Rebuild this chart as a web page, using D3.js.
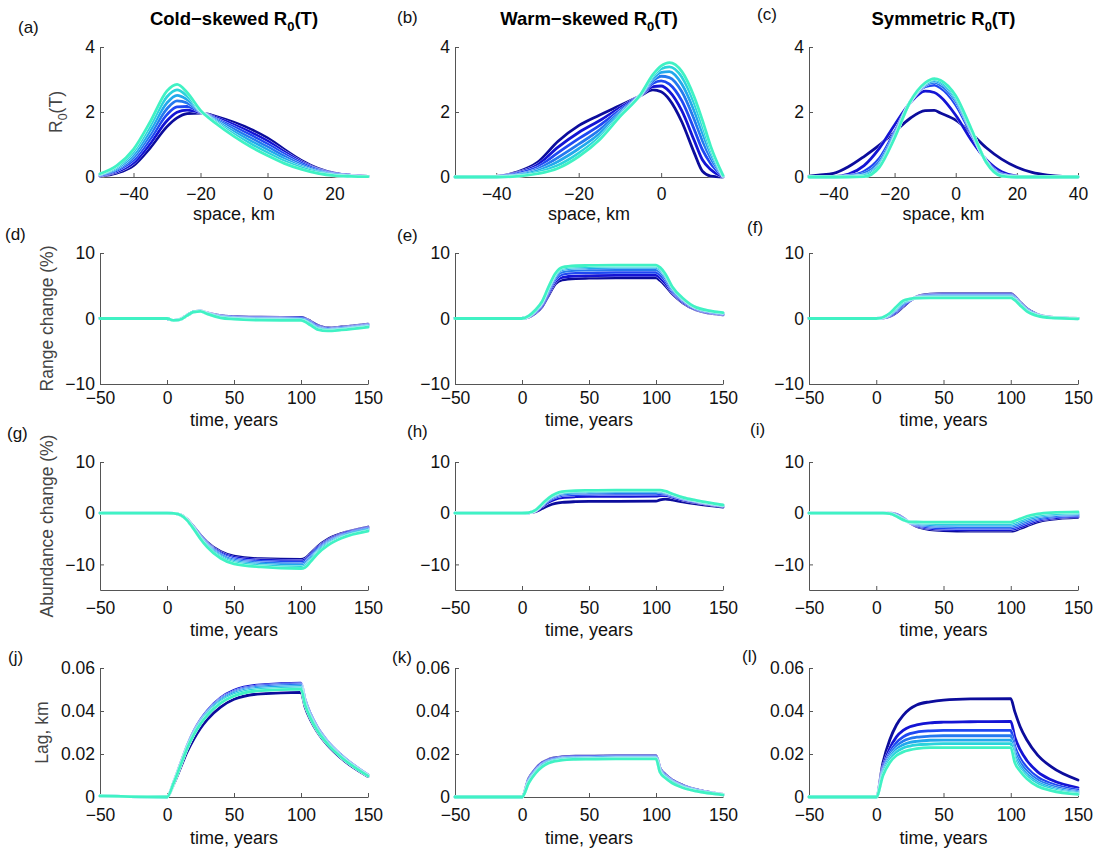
<!DOCTYPE html>
<html>
<head>
<meta charset="utf-8">
<script src="https://cdn.jsdelivr.net/npm/d3@7"></script>
<style>
  body { margin: 0; background: #fff; }
</style>
</head>
<body>
<svg id="chart" width="1097" height="851"></svg>
<script>
// ---------- data (7 runs per panel, dark blue -> aquamarine) ----------

// space grids (km) for the R0(T) profiles
const coldSpace = [-50, -45, -40, -35, -30, -27, -24, -20, -15, -10, -5, 0, 5, 10, 15, 20, 25, 30];
const warmSpace = [-50, -40, -35, -30, -25, -20, -15, -10, -5, -2, 0, 2, 5, 8, 10, 12, 15];
const symSpace = [-48, -45, -40, -35, -30, -25, -20, -15, -10, -7, -5, 0, 5, 10, 15, 20, 25, 30, 35, 40];

// time grid (years) for rows 2-4
const years = [-50, 0, 5, 10, 15, 20, 25, 30, 40, 50, 70, 100, 103, 107, 112, 120, 130, 150];

// (a) cold-skewed R0(T)
const coldR0 = [
  [0.03, 0.12, 0.35, 0.90, 1.55, 1.82, 1.95, 1.97, 1.85, 1.68, 1.47, 1.20, 0.85, 0.52, 0.27, 0.12, 0.05, 0.02],
  [0.04, 0.16, 0.43, 1.03, 1.73, 1.99, 2.06, 1.98, 1.81, 1.61, 1.38, 1.11, 0.78, 0.47, 0.24, 0.11, 0.05, 0.02],
  [0.05, 0.20, 0.52, 1.17, 1.92, 2.16, 2.17, 2.00, 1.77, 1.54, 1.29, 1.02, 0.71, 0.43, 0.22, 0.09, 0.04, 0.01],
  [0.07, 0.24, 0.60, 1.30, 2.10, 2.34, 2.28, 2.01, 1.74, 1.47, 1.20, 0.93, 0.64, 0.38, 0.19, 0.08, 0.03, 0.01],
  [0.08, 0.27, 0.68, 1.43, 2.28, 2.51, 2.38, 2.02, 1.70, 1.39, 1.11, 0.84, 0.56, 0.33, 0.16, 0.07, 0.03, 0.01],
  [0.09, 0.31, 0.77, 1.57, 2.47, 2.68, 2.49, 2.04, 1.66, 1.32, 1.02, 0.75, 0.49, 0.29, 0.14, 0.05, 0.02, 0.01],
  [0.10, 0.35, 0.85, 1.70, 2.65, 2.85, 2.60, 2.05, 1.62, 1.25, 0.93, 0.66, 0.42, 0.24, 0.11, 0.04, 0.02, 0.01]
];

// (b) warm-skewed R0(T)
const warmR0 = [
  [0, 0.02, 0.15, 0.45, 1.10, 1.58, 1.90, 2.20, 2.50, 2.68, 2.62, 2.38, 1.70, 0.75, 0.18, 0.03, 0],
  [0, 0.02, 0.12, 0.37, 0.92, 1.37, 1.73, 2.13, 2.51, 2.78, 2.80, 2.63, 2.04, 1.13, 0.53, 0.23, 0.01],
  [0, 0.01, 0.10, 0.30, 0.75, 1.18, 1.58, 2.06, 2.52, 2.88, 2.96, 2.86, 2.35, 1.47, 0.84, 0.42, 0.02],
  [0, 0.01, 0.07, 0.24, 0.60, 1.01, 1.44, 2.00, 2.52, 2.96, 3.10, 3.06, 2.63, 1.78, 1.12, 0.58, 0.03],
  [0, 0.01, 0.05, 0.19, 0.48, 0.87, 1.33, 1.95, 2.53, 3.03, 3.22, 3.24, 2.86, 2.04, 1.36, 0.72, 0.04],
  [0, 0, 0.03, 0.14, 0.36, 0.73, 1.22, 1.90, 2.53, 3.10, 3.33, 3.39, 3.08, 2.28, 1.58, 0.85, 0.04],
  [0, 0, 0.02, 0.10, 0.27, 0.63, 1.14, 1.86, 2.54, 3.15, 3.42, 3.52, 3.25, 2.47, 1.75, 0.95, 0.05]
];

// (c) symmetric R0(T)
const symR0 = [
  [0.03, 0.06, 0.11, 0.32, 0.63, 0.98, 1.39, 1.80, 2.04, 2.05, 1.97, 1.75, 1.35, 0.90, 0.55, 0.30, 0.14, 0.06, 0.02, 0.01],
  [0, 0.005, 0.01, 0.09, 0.35, 0.88, 1.60, 2.27, 2.64, 2.60, 2.47, 1.90, 1.15, 0.53, 0.16, 0.03, 0.01, 0, 0, 0],
  [0, 0, 0.005, 0.04, 0.17, 0.57, 1.39, 2.29, 2.78, 2.83, 2.74, 2.22, 1.34, 0.49, 0.09, 0.01, 0, 0, 0, 0],
  [0, 0, 0, 0.03, 0.11, 0.47, 1.32, 2.29, 2.82, 2.91, 2.83, 2.33, 1.40, 0.47, 0.07, 0.01, 0, 0, 0, 0],
  [0, 0, 0, 0.01, 0.06, 0.39, 1.26, 2.30, 2.86, 2.96, 2.90, 2.40, 1.44, 0.46, 0.05, 0, 0, 0, 0, 0],
  [0, 0, 0, 0.01, 0.04, 0.35, 1.23, 2.30, 2.88, 3.00, 2.94, 2.45, 1.47, 0.46, 0.04, 0, 0, 0, 0, 0],
  [0, 0, 0, 0, 0.01, 0.30, 1.20, 2.30, 2.90, 3.03, 2.98, 2.50, 1.50, 0.45, 0.03, 0, 0, 0, 0, 0]
];

// (d)-(f) range change (%)
const coldRange = [
  [0, 0, -0.3, -0.10, 0.50, 1.0, 1.15, 0.85, 0.45, 0.30, 0.20, 0.15, 0, -0.4, -1.00, -1.45, -1.30, -0.85],
  [0, 0, -0.3, -0.11, 0.49, 1.0, 1.14, 0.83, 0.39, 0.23, 0.13, 0.08, -0.08, -0.5, -1.11, -1.53, -1.38, -0.93],
  [0, 0, -0.3, -0.12, 0.48, 1.0, 1.13, 0.80, 0.33, 0.17, 0.05, 0, -0.17, -0.6, -1.22, -1.60, -1.45, -1.00],
  [0, 0, -0.3, -0.13, 0.48, 1.0, 1.13, 0.78, 0.28, 0.10, -0.03, -0.08, -0.25, -0.7, -1.33, -1.68, -1.53, -1.08],
  [0, 0, -0.3, -0.13, 0.47, 1.0, 1.12, 0.75, 0.22, 0.03, -0.10, -0.15, -0.33, -0.8, -1.43, -1.75, -1.60, -1.15],
  [0, 0, -0.3, -0.14, 0.46, 1.0, 1.11, 0.73, 0.16, -0.03, -0.18, -0.23, -0.42, -0.9, -1.54, -1.83, -1.68, -1.23],
  [0, 0, -0.3, -0.15, 0.45, 1.0, 1.10, 0.70, 0.10, -0.10, -0.25, -0.30, -0.50, -1.0, -1.65, -1.90, -1.75, -1.30]
];
const warmRange = [
  [0, 0, 0.20, 0.80, 1.80, 3.60, 5.30, 5.90, 6.10, 6.15, 6.20, 6.20, 5.80, 5.00, 3.80, 2.40, 1.30, 0.55],
  [0, 0, 0.24, 0.90, 1.96, 3.86, 5.62, 6.28, 6.49, 6.54, 6.59, 6.59, 6.20, 5.36, 4.02, 2.54, 1.38, 0.62],
  [0, 0, 0.29, 1.02, 2.15, 4.17, 6.00, 6.74, 6.96, 7.01, 7.06, 7.06, 6.68, 5.79, 4.28, 2.71, 1.48, 0.70],
  [0, 0, 0.33, 1.12, 2.31, 4.43, 6.32, 7.12, 7.35, 7.40, 7.45, 7.45, 7.08, 6.15, 4.50, 2.85, 1.56, 0.77],
  [0, 0, 0.36, 1.21, 2.46, 4.67, 6.61, 7.46, 7.70, 7.75, 7.80, 7.80, 7.44, 6.48, 4.70, 2.97, 1.63, 0.84],
  [0, 0, 0.38, 1.26, 2.54, 4.80, 6.77, 7.65, 7.89, 7.94, 7.99, 7.99, 7.64, 6.66, 4.81, 3.04, 1.67, 0.87],
  [0, 0, 0.40, 1.30, 2.60, 4.90, 6.90, 7.80, 8.05, 8.10, 8.15, 8.15, 7.80, 6.80, 4.90, 3.10, 1.70, 0.90]
];
const symRange = [
  [0, 0, 0.05, 0.30, 0.90, 1.80, 2.70, 3.30, 3.70, 3.80, 3.80, 3.80, 3.40, 2.50, 1.50, 0.60, 0.20, 0],
  [0, 0, 0.08, 0.38, 1.05, 1.95, 2.75, 3.27, 3.61, 3.69, 3.69, 3.69, 3.30, 2.42, 1.43, 0.57, 0.18, -0.01],
  [0, 0, 0.10, 0.47, 1.20, 2.10, 2.80, 3.23, 3.52, 3.58, 3.58, 3.58, 3.20, 2.33, 1.37, 0.53, 0.17, -0.02],
  [0, 0, 0.13, 0.55, 1.35, 2.25, 2.85, 3.20, 3.43, 3.48, 3.48, 3.48, 3.10, 2.25, 1.30, 0.50, 0.15, -0.03],
  [0, 0, 0.15, 0.63, 1.50, 2.40, 2.90, 3.17, 3.33, 3.37, 3.37, 3.37, 3.00, 2.17, 1.23, 0.47, 0.13, -0.03],
  [0, 0, 0.18, 0.72, 1.65, 2.55, 2.95, 3.13, 3.24, 3.26, 3.26, 3.26, 2.90, 2.08, 1.17, 0.43, 0.12, -0.04],
  [0, 0, 0.20, 0.80, 1.80, 2.70, 3.00, 3.10, 3.15, 3.15, 3.15, 3.15, 2.80, 2.00, 1.10, 0.40, 0.10, -0.05]
];

// (g)-(i) abundance change (%)
const coldAbund = [
  [0, 0, -0.05, -0.30, -1.20, -2.70, -4.30, -5.70, -7.50, -8.40, -8.90, -9.0, -8.8, -7.90, -6.60, -5.1, -4.00, -2.70],
  [0, 0, -0.05, -0.31, -1.23, -2.77, -4.42, -5.85, -7.72, -8.65, -9.17, -9.3, -9.1, -8.17, -6.83, -5.3, -4.15, -2.83],
  [0, 0, -0.05, -0.32, -1.27, -2.83, -4.53, -6.00, -7.93, -8.90, -9.43, -9.6, -9.4, -8.43, -7.07, -5.5, -4.30, -2.97],
  [0, 0, -0.05, -0.33, -1.30, -2.90, -4.65, -6.15, -8.15, -9.15, -9.70, -9.9, -9.7, -8.70, -7.30, -5.7, -4.45, -3.10],
  [0, 0, -0.05, -0.33, -1.33, -2.97, -4.77, -6.30, -8.37, -9.40, -9.97, -10.2, -10.0, -8.97, -7.53, -5.9, -4.60, -3.23],
  [0, 0, -0.05, -0.34, -1.37, -3.03, -4.88, -6.45, -8.58, -9.65, -10.23, -10.5, -10.3, -9.23, -7.77, -6.1, -4.75, -3.37],
  [0, 0, -0.05, -0.35, -1.40, -3.10, -5.00, -6.60, -8.80, -9.90, -10.50, -10.8, -10.6, -9.50, -8.00, -6.3, -4.90, -3.50]
];
const warmAbund = [
  [0, 0, 0.05, 0.30, 0.90, 1.50, 1.90, 2.10, 2.25, 2.30, 2.30, 2.35, 2.60, 2.75, 2.60, 2.20, 1.80, 1.20],
  [0, 0, 0.07, 0.44, 1.31, 2.18, 2.76, 3.05, 3.22, 3.27, 3.29, 3.32, 3.46, 3.45, 3.14, 2.61, 2.12, 1.38],
  [0, 0, 0.08, 0.50, 1.49, 2.48, 3.14, 3.47, 3.65, 3.70, 3.73, 3.75, 3.84, 3.76, 3.38, 2.79, 2.26, 1.46],
  [0, 0, 0.09, 0.53, 1.60, 2.67, 3.38, 3.74, 3.93, 3.98, 4.02, 4.03, 4.08, 3.96, 3.54, 2.90, 2.35, 1.51],
  [0, 0, 0.09, 0.56, 1.69, 2.82, 3.57, 3.95, 4.14, 4.19, 4.24, 4.24, 4.27, 4.11, 3.66, 2.99, 2.42, 1.55],
  [0, 0, 0.10, 0.59, 1.76, 2.93, 3.71, 4.10, 4.29, 4.34, 4.39, 4.39, 4.41, 4.22, 3.74, 3.06, 2.47, 1.58],
  [0, 0, 0.10, 0.60, 1.80, 3.00, 3.80, 4.20, 4.40, 4.45, 4.50, 4.50, 4.50, 4.30, 3.80, 3.10, 2.50, 1.60]
];
const symAbund = [
  [0, 0, 0, 0, -0.20, -0.90, -1.90, -2.60, -3.20, -3.40, -3.50, -3.50, -3.40, -3.00, -2.50, -1.70, -1.20, -0.80],
  [0, 0, 0, -0.02, -0.27, -0.97, -1.87, -2.45, -2.96, -3.13, -3.21, -3.21, -3.08, -2.68, -2.18, -1.44, -0.98, -0.63],
  [0, 0, 0, -0.03, -0.33, -1.03, -1.83, -2.30, -2.72, -2.85, -2.92, -2.92, -2.77, -2.37, -1.87, -1.18, -0.77, -0.45],
  [0, 0, 0, -0.05, -0.40, -1.10, -1.80, -2.15, -2.48, -2.58, -2.63, -2.63, -2.45, -2.05, -1.55, -0.93, -0.55, -0.28],
  [0, 0, 0, -0.07, -0.47, -1.17, -1.77, -2.00, -2.23, -2.30, -2.33, -2.33, -2.13, -1.73, -1.23, -0.67, -0.33, -0.10],
  [0, 0, 0, -0.08, -0.53, -1.23, -1.73, -1.85, -1.99, -2.03, -2.04, -2.04, -1.82, -1.42, -0.92, -0.41, -0.12, 0.08],
  [0, 0, 0, -0.10, -0.60, -1.30, -1.70, -1.70, -1.75, -1.75, -1.75, -1.75, -1.50, -1.10, -0.60, -0.15, 0.10, 0.25]
];

// (j)-(l) lag (km)
const coldLag = [
  [0.0005, 0, 0.0060, 0.0135, 0.0210, 0.0270, 0.0320, 0.0360, 0.0418, 0.0455, 0.0480, 0.0487, 0.0420, 0.0360, 0.0305, 0.0240, 0.0180, 0.0095],
  [0.0005, 0, 0.0069, 0.0153, 0.0237, 0.0306, 0.0359, 0.0401, 0.0461, 0.0496, 0.0522, 0.0530, 0.0454, 0.0388, 0.0327, 0.0258, 0.0195, 0.0103],
  [0.0005, 0, 0.0068, 0.0152, 0.0235, 0.0303, 0.0355, 0.0397, 0.0457, 0.0491, 0.0517, 0.0525, 0.0449, 0.0385, 0.0324, 0.0256, 0.0193, 0.0102],
  [0.0005, 0, 0.0067, 0.0150, 0.0233, 0.0300, 0.0352, 0.0393, 0.0452, 0.0486, 0.0512, 0.0520, 0.0445, 0.0381, 0.0321, 0.0254, 0.0191, 0.0101],
  [0.0005, 0, 0.0067, 0.0149, 0.0231, 0.0297, 0.0349, 0.0390, 0.0448, 0.0482, 0.0507, 0.0515, 0.0441, 0.0377, 0.0318, 0.0251, 0.0190, 0.0100],
  [0.0005, 0, 0.0066, 0.0147, 0.0228, 0.0293, 0.0344, 0.0385, 0.0442, 0.0476, 0.0501, 0.0508, 0.0435, 0.0372, 0.0314, 0.0248, 0.0187, 0.0099],
  [0.0005, 0, 0.0065, 0.0145, 0.0225, 0.0290, 0.0340, 0.0380, 0.0437, 0.0470, 0.0495, 0.0502, 0.0430, 0.0368, 0.0310, 0.0245, 0.0185, 0.0098]
];
const warmLag = [
  [0, 0, 0.0085, 0.0130, 0.0160, 0.0175, 0.0183, 0.0187, 0.0190, 0.0190, 0.0192, 0.0192, 0.0135, 0.0105, 0.0080, 0.0055, 0.0035, 0.0012],
  [0, 0, 0.0082, 0.0127, 0.0157, 0.0172, 0.0180, 0.0185, 0.0188, 0.0188, 0.0190, 0.0190, 0.0132, 0.0102, 0.0078, 0.0053, 0.0034, 0.0012],
  [0, 0, 0.0078, 0.0123, 0.0153, 0.0169, 0.0178, 0.0182, 0.0185, 0.0185, 0.0187, 0.0187, 0.0128, 0.0099, 0.0075, 0.0051, 0.0032, 0.0011],
  [0, 0, 0.0075, 0.0120, 0.0150, 0.0167, 0.0175, 0.0180, 0.0183, 0.0183, 0.0185, 0.0185, 0.0125, 0.0097, 0.0073, 0.0049, 0.0031, 0.0011],
  [0, 0, 0.0072, 0.0117, 0.0147, 0.0164, 0.0172, 0.0177, 0.0180, 0.0181, 0.0182, 0.0182, 0.0122, 0.0094, 0.0070, 0.0047, 0.0030, 0.0011],
  [0, 0, 0.0068, 0.0113, 0.0143, 0.0161, 0.0170, 0.0175, 0.0178, 0.0178, 0.0180, 0.0180, 0.0118, 0.0091, 0.0068, 0.0045, 0.0028, 0.0010],
  [0, 0, 0.0065, 0.0110, 0.0140, 0.0158, 0.0167, 0.0172, 0.0175, 0.0176, 0.0177, 0.0177, 0.0115, 0.0088, 0.0065, 0.0043, 0.0027, 0.0010]
];
const symLag = [
  [0, 0, 0.0160, 0.0265, 0.0335, 0.0380, 0.0410, 0.0428, 0.0443, 0.0451, 0.0456, 0.0457, 0.0397, 0.0327, 0.0265, 0.0195, 0.0141, 0.0079],
  [0, 0, 0.0140, 0.0225, 0.0280, 0.0310, 0.0327, 0.0335, 0.0345, 0.0348, 0.0350, 0.0352, 0.0280, 0.0220, 0.0170, 0.0117, 0.0080, 0.0043],
  [0, 0, 0.0130, 0.0205, 0.0253, 0.0280, 0.0295, 0.0302, 0.0308, 0.0310, 0.0310, 0.0310, 0.0235, 0.0180, 0.0137, 0.0092, 0.0062, 0.0032],
  [0, 0, 0.0120, 0.0193, 0.0236, 0.0260, 0.0272, 0.0278, 0.0283, 0.0285, 0.0285, 0.0285, 0.0212, 0.0160, 0.0120, 0.0079, 0.0052, 0.0025],
  [0, 0, 0.0115, 0.0183, 0.0222, 0.0243, 0.0254, 0.0259, 0.0264, 0.0265, 0.0265, 0.0265, 0.0193, 0.0143, 0.0106, 0.0068, 0.0044, 0.0020],
  [0, 0, 0.0108, 0.0172, 0.0209, 0.0228, 0.0237, 0.0242, 0.0246, 0.0248, 0.0248, 0.0248, 0.0177, 0.0130, 0.0095, 0.0060, 0.0037, 0.0016],
  [0, 0, 0.0100, 0.0160, 0.0193, 0.0210, 0.0219, 0.0225, 0.0230, 0.0230, 0.0230, 0.0230, 0.0160, 0.0120, 0.0085, 0.0050, 0.0030, 0.0012]
];

// tick values
const coldSpaceTicks = [-40, -20, 0, 20];
const warmSpaceTicks = [-40, -20, 0];
const symSpaceTicks = [-40, -20, 0, 20, 40];
const timeTicks = [-50, 0, 50, 100, 150];
const r0Ticks = [0, 2, 4];
const pctTicks = [-10, 0, 10];
const lagTicks = [0, 0.02, 0.04, 0.06];

// ---------- layout & style ----------
const fontStack = "'Liberation Sans', Arial, Helvetica, sans-serif";
const lineColors = ["#0c0c9c", "#1414d4", "#1f48f2", "#2479ef", "#22a8ec", "#2bd3dc", "#40f2c4"];
const axisColor = "#555";

const colX = [[100, 368], [455, 723], [809, 1078]];
const rowY = [[177, 47], [384, 253], [590, 462], [797, 668]];
const tickBase = [23, 20, 24, 24];   // tick label baseline below the x axis
const xLabBase = [43, 42, 46, 47];   // x label baseline below the x axis
const yLabX = [62, 53, 53, 48];      // y label baseline position (rotated)

const svg = d3.select("#chart");

const panels = [
  { tag: "(a)", lx: 18, ly: 33, col: 0, row: 0, x: coldSpace, ys: coldR0, xd: [-50, 30], yd: [0, 4], xt: coldSpaceTicks, yt: r0Ticks, xlab: "space, km" },
  { tag: "(b)", lx: 397, ly: 23, col: 1, row: 0, x: warmSpace, ys: warmR0, xd: [-50, 15], yd: [0, 4], xt: warmSpaceTicks, yt: r0Ticks, xlab: "space, km" },
  { tag: "(c)", lx: 757, ly: 20, col: 2, row: 0, x: symSpace, ys: symR0, xd: [-48, 40], yd: [0, 4], xt: symSpaceTicks, yt: r0Ticks, xlab: "space, km" },
  { tag: "(d)", lx: 5, ly: 240, col: 0, row: 1, x: years, ys: coldRange, xd: [-50, 150], yd: [-10, 10], xt: timeTicks, yt: pctTicks, xlab: "time, years" },
  { tag: "(e)", lx: 397, ly: 241, col: 1, row: 1, x: years, ys: warmRange, xd: [-50, 150], yd: [-10, 10], xt: timeTicks, yt: pctTicks, xlab: "time, years" },
  { tag: "(f)", lx: 747, ly: 233, col: 2, row: 1, x: years, ys: symRange, xd: [-50, 150], yd: [-10, 10], xt: timeTicks, yt: pctTicks, xlab: "time, years" },
  { tag: "(g)", lx: 7, ly: 439, col: 0, row: 2, x: years, ys: coldAbund, xd: [-50, 150], yd: [-15, 10], xt: timeTicks, yt: pctTicks, xlab: "time, years" },
  { tag: "(h)", lx: 407, ly: 437, col: 1, row: 2, x: years, ys: warmAbund, xd: [-50, 150], yd: [-15, 10], xt: timeTicks, yt: pctTicks, xlab: "time, years" },
  { tag: "(i)", lx: 750, ly: 435, col: 2, row: 2, x: years, ys: symAbund, xd: [-50, 150], yd: [-15, 10], xt: timeTicks, yt: pctTicks, xlab: "time, years" },
  { tag: "(j)", lx: 8, ly: 663, col: 0, row: 3, x: years, ys: coldLag, xd: [-50, 150], yd: [0, 0.06], xt: timeTicks, yt: lagTicks, xlab: "time, years" },
  { tag: "(k)", lx: 392, ly: 663, col: 1, row: 3, x: years, ys: warmLag, xd: [-50, 150], yd: [0, 0.06], xt: timeTicks, yt: lagTicks, xlab: "time, years" },
  { tag: "(l)", lx: 742, ly: 662, col: 2, row: 3, x: years, ys: symLag, xd: [-50, 150], yd: [0, 0.06], xt: timeTicks, yt: lagTicks, xlab: "time, years" }
];

const fmt = d => (d < 0 ? "\u2212" : "") + Math.abs(d);

function drawPanel(p) {
  const x = d3.scaleLinear().domain(p.xd).range(colX[p.col]);
  const y = d3.scaleLinear().domain(p.yd).range(rowY[p.row]);
  const g = svg.append("g");

  // axes (MATLAB style: left + bottom only, ticks pointing in)
  const xa = g.append("g")
    .attr("transform", `translate(0,${rowY[p.row][0]})`)
    .call(d3.axisBottom(x).tickValues(p.xt).tickFormat(fmt).tickSizeInner(-4).tickSizeOuter(0));
  const ya = g.append("g")
    .attr("transform", `translate(${colX[p.col][0]},0)`)
    .call(d3.axisLeft(y).tickValues(p.yt).tickFormat(fmt).tickSizeInner(-4).tickSizeOuter(0).tickPadding(5));

  [xa, ya].forEach(a => {
    a.attr("font-family", fontStack).attr("font-size", 17.5);
    a.select(".domain").attr("stroke", axisColor);
    a.selectAll(".tick line").attr("stroke", axisColor);
    a.selectAll(".tick text").attr("fill", "#111");
  });
  xa.selectAll(".tick text").attr("y", tickBase[p.row]).attr("dy", null);

  // x label
  g.append("text")
    .attr("x", (colX[p.col][0] + colX[p.col][1]) / 2)
    .attr("y", rowY[p.row][0] + xLabBase[p.row])
    .attr("text-anchor", "middle")
    .attr("font-family", fontStack).attr("font-size", 18).attr("fill", "#111")
    .text(p.xlab);

  // panel tag
  g.append("text")
    .attr("x", p.lx).attr("y", p.ly)
    .attr("font-family", fontStack).attr("font-size", 17).attr("fill", "#111")
    .text(p.tag);

  // curves, dark blue first, aquamarine last (on top), each with a thin white edge
  const line = d3.line()
    .x((d, i) => x(p.x[i]))
    .y(d => y(d))
    .curve(d3.curveMonotoneX);

  p.ys.forEach((vals, k) => {
    g.append("path")
      .attr("d", line(vals))
      .attr("fill", "none")
      .attr("stroke", "#fff")
      .attr("stroke-width", 3.2)
      .attr("stroke-linejoin", "round")
      .attr("stroke-linecap", "round");
    g.append("path")
      .attr("d", line(vals))
      .attr("fill", "none")
      .attr("stroke", lineColors[k])
      .attr("stroke-width", 2.8)
      .attr("stroke-linejoin", "round")
      .attr("stroke-linecap", "round");
  });
}

panels.forEach(drawPanel);

// column titles with subscripts
const titles = ["Cold\u2212skewed R", "Warm\u2212skewed R", "Symmetric R"];
titles.forEach((t, c) => {
  const tx = svg.append("text")
    .attr("x", (colX[c][0] + colX[c][1]) / 2)
    .attr("y", 25)
    .attr("text-anchor", "middle")
    .attr("font-family", fontStack)
    .attr("font-size", 18.5)
    .attr("font-weight", "bold")
    .attr("fill", "#000");
  tx.append("tspan").text(t);
  tx.append("tspan").attr("font-size", 13).attr("dy", 6).text("0");
  tx.append("tspan").attr("dy", -6).text("(T)");
});

// y labels (first column only)
const yLabels = ["", "Range change (%)", "Abundance change (%)", "Lag, km"];
rowY.forEach((r, i) => {
  const cy = (r[0] + r[1]) / 2;
  const t = svg.append("text")
    .attr("transform", `translate(${yLabX[i]},${cy}) rotate(-90)`)
    .attr("text-anchor", "middle")
    .attr("font-family", fontStack)
    .attr("font-size", 17.5)
    .attr("fill", "#444");
  if (i === 0) {
    t.append("tspan").text("R");
    t.append("tspan").attr("font-size", 12.5).attr("dy", 5).text("0");
    t.append("tspan").attr("dy", -5).text("(T)");
  } else {
    t.text(yLabels[i]);
  }
});
</script>
</body>
</html>
